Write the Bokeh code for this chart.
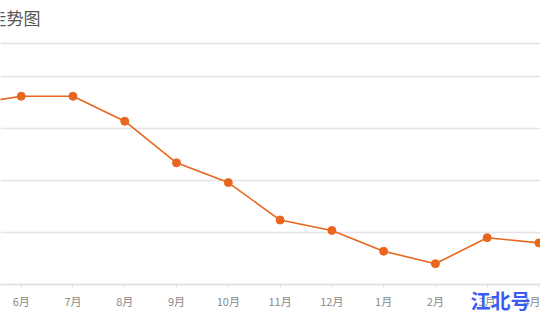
from bokeh.plotting import figure
from bokeh.models import Range1d, FixedTicker, Label, Span
from bokeh.embed import file_html
from bokeh.resources import INLINE

months = ["5月", "6月", "7月", "8月", "9月", "10月", "11月", "12月", "1月", "2月", "3月", "4月"]
prices = [10730, 10810, 10810, 10570, 10170, 9980, 9620, 9520, 9320, 9200, 9450, 9400]
grid_values = [9500, 10000, 10500, 11000]
title_text = "房价走势图"
watermark_text = "江北号"
separator_value = 11317

xs = list(range(-1, len(months) - 1))

FONT = "Noto Sans CJK SC"
ORANGE = "#e8661e"

p = figure(width=540, height=320, output_backend="svg", toolbar_location=None,
           x_range=Range1d(-0.4, 10.03), y_range=Range1d(9000, 11731),
           min_border_left=0, min_border_right=0, min_border_top=0, min_border_bottom=36)
p.title.visible = False
p.background_fill_color = "white"
p.border_fill_color = "white"
p.outline_line_color = None
p.yaxis.visible = False
p.xgrid.visible = False
p.ygrid.ticker = FixedTicker(ticks=grid_values)
p.ygrid.grid_line_color = "#e4e4e4"
p.ygrid.grid_line_width = 1.5

ax = p.xaxis[0]
ax.ticker = FixedTicker(ticks=xs)
ax.major_label_overrides = {x: m for x, m in zip(xs, months)}
ax.axis_line_color = "#e2e2e2"
ax.axis_line_width = 2
ax.major_tick_line_color = "#dddddd"
ax.major_tick_out = 3
ax.major_tick_in = 0
ax.minor_tick_line_color = None
ax.major_label_standoff = 5
ax.major_label_text_font = FONT
ax.major_label_text_font_size = "11px"
ax.major_label_text_color = "#888888"

# watermark drawn as the axis label, padded with ideographic spaces to sit left of the edge
ax.axis_label = watermark_text + "\u3000" * 4
ax.axis_label_align = "end"
ax.axis_label_standoff = -26
ax.axis_label_text_font = FONT
ax.axis_label_text_font_size = "20px"
ax.axis_label_text_font_style = "bold"
ax.axis_label_text_color = "#3a5cf5"

p.add_layout(Span(location=separator_value, dimension="width", line_color="#e2e2e2", line_width=1.5))

p.line(xs, prices, line_color=ORANGE, line_width=1.6)
p.scatter(xs, prices, size=8, fill_color=ORANGE, line_color=ORANGE)

p.add_layout(Label(x=40, y=267, x_units="screen", y_units="screen", text=title_text,
                   text_align="right", text_baseline="alphabetic", text_font=FONT,
                   text_font_size="17px", text_color="#555555"))

open("out.html", "w").write(file_html(p, INLINE))
